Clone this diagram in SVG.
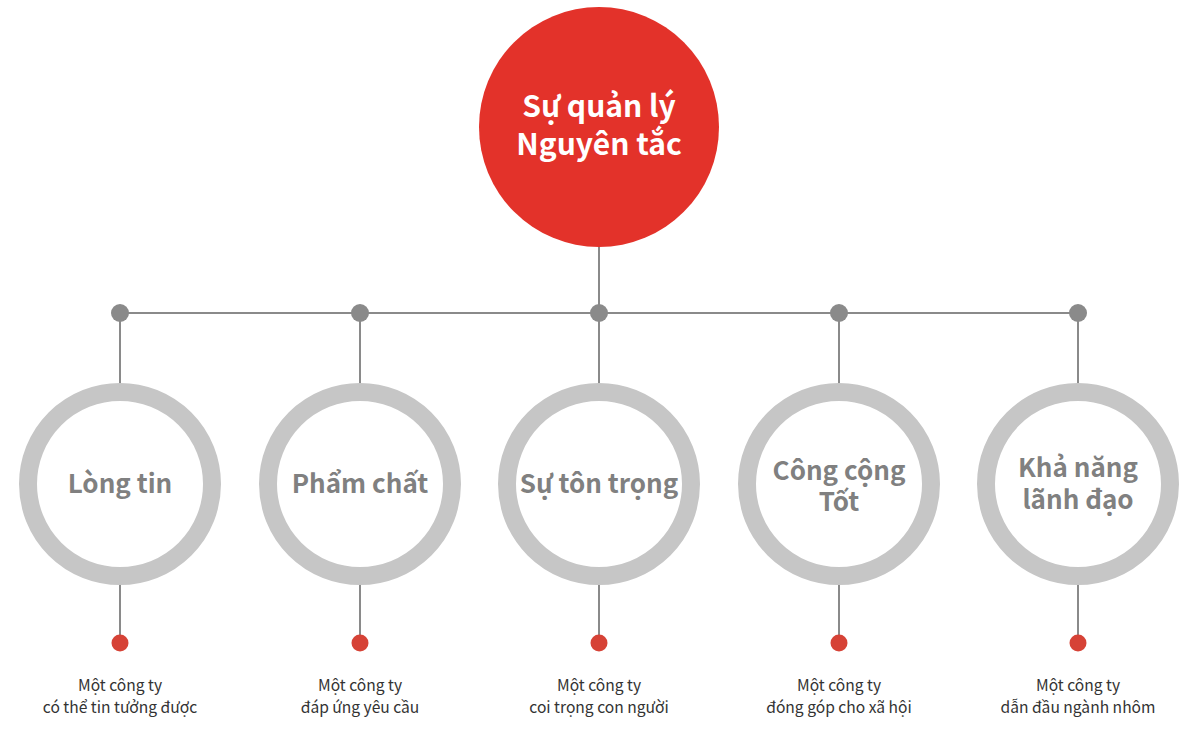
<svg xmlns="http://www.w3.org/2000/svg" width="1200" height="734" viewBox="0 0 1200 734">
<style>
.line{stroke:#8a8a8a;stroke-width:2;fill:none}
.gdot{fill:#8a8a8a}
.rdot{fill:#d64236}
.ring{fill:#fff;stroke:#c6c6c6;stroke-width:18}
.title{font-family:"Noto Sans CJK KR","Noto Sans",sans-serif;font-weight:bold;font-size:30px;fill:#fff;text-anchor:middle}
.label{font-family:"Noto Sans CJK KR","Noto Sans",sans-serif;font-weight:bold;font-size:26px;fill:#808080;text-anchor:middle}
.desc{font-family:"Noto Sans CJK KR","Noto Sans",sans-serif;font-size:15.6px;fill:#333;text-anchor:middle}
</style>
<rect width="1200" height="734" fill="#fff"/>
<g id="connectors">
<line class="line" x1="599" y1="247" x2="599" y2="383"/>
<line class="line" x1="120" y1="313" x2="1078" y2="313"/>
<line class="line" x1="120" y1="313" x2="120" y2="383"/>
<line class="line" x1="360" y1="313" x2="360" y2="383"/>
<line class="line" x1="839" y1="313" x2="839" y2="383"/>
<line class="line" x1="1078" y1="313" x2="1078" y2="383"/>
<line class="line" x1="120" y1="585" x2="120" y2="643"/>
<line class="line" x1="360" y1="585" x2="360" y2="643"/>
<line class="line" x1="599" y1="585" x2="599" y2="643"/>
<line class="line" x1="839" y1="585" x2="839" y2="643"/>
<line class="line" x1="1078" y1="585" x2="1078" y2="643"/>
<circle class="gdot" cx="120" cy="313" r="9"/>
<circle class="gdot" cx="360" cy="313" r="9"/>
<circle class="gdot" cx="599" cy="313" r="9"/>
<circle class="gdot" cx="839" cy="313" r="9"/>
<circle class="gdot" cx="1078" cy="313" r="9"/>
<circle class="rdot" cx="120" cy="643" r="8.5"/>
<circle class="rdot" cx="360" cy="643" r="8.5"/>
<circle class="rdot" cx="599" cy="643" r="8.5"/>
<circle class="rdot" cx="839" cy="643" r="8.5"/>
<circle class="rdot" cx="1078" cy="643" r="8.5"/>
</g>
<g id="root">
<circle cx="599" cy="127" r="120" fill="#e3322a"/>
<text class="title" x="599" y="117">Sự quản lý</text>
<text class="title" x="599" y="155">Nguyên tắc</text>
</g>
<g id="node1">
<circle class="ring" cx="120" cy="484" r="92"/>
<text class="label" x="120" y="493">Lòng tin</text>
<text class="desc" x="120" y="691">Một công ty</text>
<text class="desc" x="120" y="713">có thể tin tưởng được</text>
</g>
<g id="node2">
<circle class="ring" cx="360" cy="484" r="92"/>
<text class="label" x="360" y="493">Phẩm chất</text>
<text class="desc" x="360" y="691">Một công ty</text>
<text class="desc" x="360" y="713">đáp ứng yêu cầu</text>
</g>
<g id="node3">
<circle class="ring" cx="599" cy="484" r="92"/>
<text class="label" x="599" y="493">Sự tôn trọng</text>
<text class="desc" x="599" y="691">Một công ty</text>
<text class="desc" x="599" y="713">coi trọng con người</text>
</g>
<g id="node4">
<circle class="ring" cx="839" cy="484" r="92"/>
<text class="label" x="839" y="480">Công cộng</text>
<text class="label" x="839" y="511">Tốt</text>
<text class="desc" x="839" y="691">Một công ty</text>
<text class="desc" x="839" y="713">đóng góp cho xã hội</text>
</g>
<g id="node5">
<circle class="ring" cx="1078" cy="484" r="92"/>
<text class="label" x="1078" y="477">Khả năng</text>
<text class="label" x="1078" y="509">lãnh đạo</text>
<text class="desc" x="1078" y="691">Một công ty</text>
<text class="desc" x="1078" y="713">dẫn đầu ngành nhôm</text>
</g>
</svg>
